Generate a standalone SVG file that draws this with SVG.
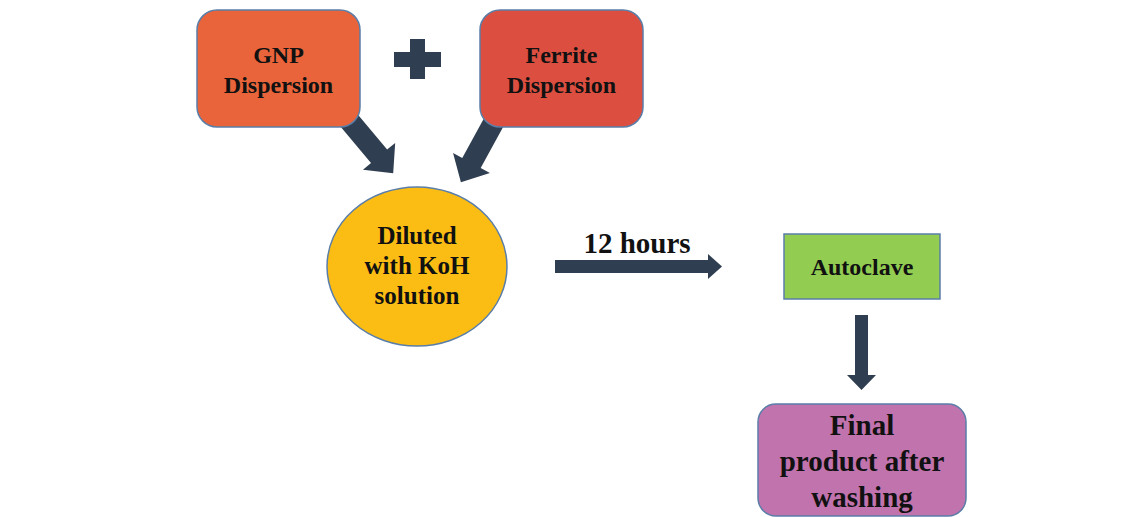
<svg xmlns="http://www.w3.org/2000/svg" width="1145" height="517" viewBox="0 0 1145 517">
<style>
.node{stroke:#5a7ea8;stroke-width:1.5}
.lbl{font-family:"Liberation Serif","Times New Roman",serif;font-weight:bold;fill:#111;text-anchor:middle}
.arr{fill:#2f3e50}
</style>
<rect width="1145" height="517" fill="#fff"/>
<g id="connectors">
<polygon class="arr" points="394,52 410,52 410,39 425,39 425,52 441,52 441,67 425,67 425,79 410,79 410,67 394,67"/>
<polygon class="arr" transform="translate(347,118) rotate(50.1)" points="0,-10.5 50,-10.5 50,-21 72,0 50,21 50,10.5 0,10.5"/>
<polygon class="arr" transform="translate(495,120) rotate(118.7)" points="0,-10.5 49,-10.5 49,-21 71,0 49,21 49,10.5 0,10.5"/>
<polygon class="arr" points="555,260 708,260 708,254 722,266.5 708,279 708,273 555,273"/>
<polygon class="arr" points="855,315 868,315 868,375 876,375 861.5,390 847,375 855,375"/>
</g>
<g id="gnp">
<rect class="node" x="197" y="10" width="163" height="117" rx="20" fill="#e9643a"/>
<text class="lbl" font-size="24" x="278.5" y="63">GNP</text>
<text class="lbl" font-size="24" x="278.5" y="93">Dispersion</text>
</g>
<g id="ferrite">
<rect class="node" x="480" y="10" width="163" height="117" rx="20" fill="#dc4f40"/>
<text class="lbl" font-size="24" x="561.5" y="63">Ferrite</text>
<text class="lbl" font-size="24" x="561.5" y="93">Dispersion</text>
</g>
<g id="diluted">
<ellipse class="node" cx="417" cy="266.5" rx="90" ry="79.5" fill="#fbbd14"/>
<text class="lbl" font-size="25" x="417" y="244">Diluted</text>
<text class="lbl" font-size="25" x="417" y="274">with KoH</text>
<text class="lbl" font-size="25" x="417" y="304">solution</text>
</g>
<g id="hours-label">
<text class="lbl" font-size="29" x="637" y="253">12 hours</text>
</g>
<g id="autoclave">
<rect class="node" x="784" y="234" width="156" height="65" fill="#92cd52"/>
<text class="lbl" font-size="24" x="862" y="275">Autoclave</text>
</g>
<g id="final">
<rect class="node" x="758" y="404" width="208" height="112" rx="18" fill="#c173ae"/>
<text class="lbl" font-size="29" x="862" y="435">Final</text>
<text class="lbl" font-size="29" x="862" y="471">product after</text>
<text class="lbl" font-size="29" x="862" y="507">washing</text>
</g>
</svg>
